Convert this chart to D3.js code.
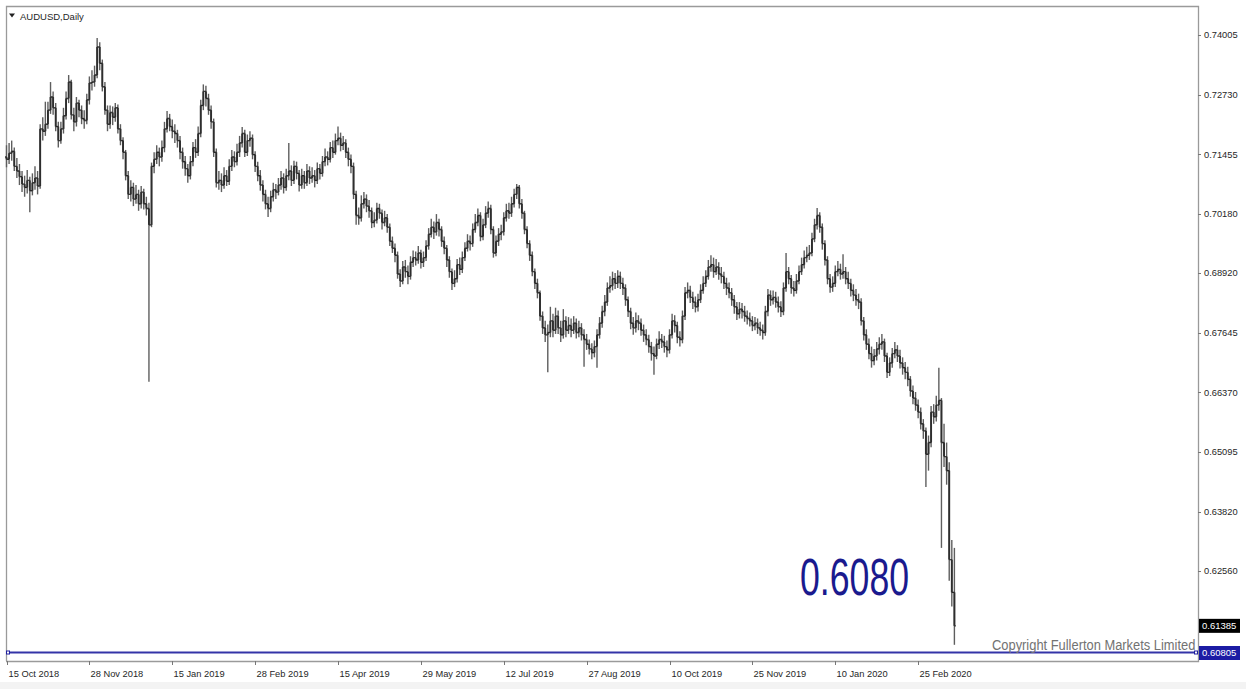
<!DOCTYPE html>
<html>
<head>
<meta charset="utf-8">
<script src="https://cdn.jsdelivr.net/npm/d3@7"></script>
<style>
  html, body { margin: 0; padding: 0; background: #fff; }
  svg { display: block; }
  text { font-family: "Liberation Sans", Arial, sans-serif; }
</style>
</head>
<body>
<svg width="1246" height="689"></svg>
<script>
// AUDUSD daily, 15 Oct 2018 .. 16 Mar 2020
const firstOpen = 0.7140;

const closes = [
  0.7135,0.7148,0.7152,0.7120,0.7110,0.7098,0.7082,0.7075,0.7090,0.7068,
  0.7085,0.7095,0.7078,0.7200,0.7195,0.7210,0.7240,0.7268,0.7245,0.7205,
  0.7175,0.7200,0.7228,0.7265,0.7300,0.7230,0.7215,0.7255,0.7240,0.7222,
  0.7218,0.7262,0.7298,0.7300,0.7315,0.7375,0.7340,0.7290,0.7240,0.7210,
  0.7235,0.7225,0.7245,0.7200,0.7175,0.7150,0.7100,0.7060,0.7075,0.7050,
  0.7060,0.7040,0.7065,0.7040,0.7030,0.6995,0.7120,0.7135,0.7150,0.7140,
  0.7160,0.7200,0.7222,0.7205,0.7195,0.7190,0.7175,0.7150,0.7130,0.7115,
  0.7100,0.7130,0.7160,0.7150,0.7190,0.7250,0.7280,0.7265,0.7240,0.7215,
  0.7150,0.7085,0.7090,0.7080,0.7100,0.7088,0.7120,0.7140,0.7130,0.7150,
  0.7170,0.7190,0.7150,0.7175,0.7180,0.7145,0.7120,0.7100,0.7080,0.7060,
  0.7040,0.7030,0.7055,0.7070,0.7065,0.7080,0.7095,0.7075,0.7100,0.7110,
  0.7090,0.7120,0.7105,0.7080,0.7100,0.7085,0.7110,0.7095,0.7100,0.7090,
  0.7115,0.7105,0.7130,0.7140,0.7135,0.7160,0.7150,0.7175,0.7180,0.7165,
  0.7170,0.7150,0.7135,0.7120,0.7060,0.7015,0.7010,0.7040,0.7050,0.7035,
  0.7025,0.7000,0.7005,0.7030,0.7020,0.7000,0.7010,0.6990,0.6960,0.6945,
  0.6930,0.6890,0.6875,0.6905,0.6895,0.6885,0.6915,0.6925,0.6920,0.6935,
  0.6915,0.6925,0.6950,0.6975,0.6990,0.6980,0.7000,0.6985,0.6960,0.6945,
  0.6920,0.6895,0.6870,0.6880,0.6910,0.6900,0.6925,0.6945,0.6960,0.6955,
  0.6985,0.7000,0.7015,0.6970,0.6995,0.7020,0.7030,0.6985,0.6935,0.6960,
  0.6975,0.6980,0.7010,0.7025,0.7020,0.7040,0.7060,0.7075,0.7040,0.7020,
  0.6985,0.6955,0.6930,0.6895,0.6870,0.6850,0.6800,0.6775,0.6760,0.6765,
  0.6790,0.6770,0.6800,0.6775,0.6760,0.6790,0.6770,0.6780,0.6770,0.6785,
  0.6765,0.6775,0.6760,0.6750,0.6740,0.6730,0.6722,0.6735,0.6760,0.6785,
  0.6810,0.6830,0.6860,0.6865,0.6880,0.6870,0.6885,0.6870,0.6860,0.6835,
  0.6810,0.6785,0.6775,0.6790,0.6785,0.6770,0.6760,0.6750,0.6735,0.6720,
  0.6715,0.6740,0.6750,0.6745,0.6735,0.6728,0.6760,0.6790,0.6780,0.6755,
  0.6750,0.6800,0.6850,0.6855,0.6840,0.6830,0.6820,0.6835,0.6855,0.6870,
  0.6885,0.6905,0.6910,0.6895,0.6905,0.6890,0.6885,0.6870,0.6860,0.6850,
  0.6835,0.6820,0.6805,0.6815,0.6810,0.6800,0.6795,0.6790,0.6780,0.6785,
  0.6775,0.6770,0.6765,0.6810,0.6845,0.6835,0.6840,0.6830,0.6820,0.6810,
  0.6860,0.6895,0.6880,0.6860,0.6855,0.6875,0.6895,0.6910,0.6925,0.6930,
  0.6935,0.6965,0.6995,0.7015,0.6990,0.6955,0.6920,0.6880,0.6862,0.6870,
  0.6895,0.6900,0.6890,0.6895,0.6880,0.6870,0.6855,0.6845,0.6835,0.6830,
  0.6790,0.6760,0.6740,0.6720,0.6705,0.6715,0.6730,0.6740,0.6745,0.6715,
  0.6680,0.6700,0.6720,0.6728,0.6715,0.6700,0.6690,0.6680,0.6665,0.6640,
  0.6625,0.6610,0.6595,0.6570,0.6555,0.6505,0.6530,0.6595,0.6585,0.6610,
  0.6620,0.6530,0.6500,0.6470,0.6280,0.6210,0.61385
];

const highs = [
  0.7165,0.7170,0.7175,0.7160,0.7138,0.7125,0.7110,0.7100,0.7112,0.7098,
  0.7105,0.7120,0.7110,0.7210,0.7225,0.7258,0.7258,0.7300,0.7280,0.7255,
  0.7215,0.7215,0.7245,0.7280,0.7315,0.7305,0.7245,0.7268,0.7262,0.7250,
  0.7240,0.7275,0.7312,0.7325,0.7335,0.7394,0.7385,0.7348,0.7300,0.7250,
  0.7250,0.7248,0.7255,0.7252,0.7210,0.7182,0.7155,0.7110,0.7090,0.7085,
  0.7080,0.7070,0.7078,0.7072,0.7055,0.7042,0.7128,0.7150,0.7165,0.7160,
  0.7175,0.7215,0.7238,0.7232,0.7220,0.7210,0.7198,0.7185,0.7160,0.7142,
  0.7125,0.7142,0.7172,0.7178,0.7205,0.7262,0.7295,0.7292,0.7275,0.7250,
  0.7222,0.7158,0.7110,0.7105,0.7118,0.7112,0.7135,0.7155,0.7152,0.7168,
  0.7185,0.7204,0.7198,0.7188,0.7195,0.7188,0.7152,0.7130,0.7112,0.7090,
  0.7070,0.7055,0.7068,0.7085,0.7082,0.7095,0.7110,0.7105,0.7115,0.7170,
  0.7122,0.7132,0.7130,0.7112,0.7115,0.7110,0.7125,0.7120,0.7118,0.7112,
  0.7128,0.7125,0.7142,0.7158,0.7152,0.7172,0.7175,0.7190,0.7205,0.7192,
  0.7185,0.7178,0.7160,0.7145,0.7128,0.7068,0.7032,0.7058,0.7065,0.7060,
  0.7048,0.7032,0.7022,0.7042,0.7040,0.7028,0.7025,0.7018,0.6998,0.6970,
  0.6955,0.6938,0.6900,0.6918,0.6920,0.6908,0.6928,0.6940,0.6938,0.6950,
  0.6942,0.6938,0.6962,0.6988,0.7008,0.7002,0.7018,0.7008,0.6992,0.6970,
  0.6952,0.6928,0.6902,0.6898,0.6922,0.6925,0.6938,0.6958,0.6975,0.6972,
  0.6998,0.7018,0.7030,0.7022,0.7008,0.7035,0.7045,0.7038,0.6992,0.6972,
  0.6988,0.6995,0.7022,0.7040,0.7042,0.7055,0.7072,0.7082,0.7080,0.7050,
  0.7025,0.6992,0.6962,0.6938,0.6902,0.6880,0.6855,0.6810,0.6790,0.6782,
  0.6820,0.6805,0.6818,0.6812,0.6790,0.6815,0.6800,0.6798,0.6795,0.6800,
  0.6795,0.6790,0.6785,0.6772,0.6762,0.6750,0.6742,0.6748,0.6772,0.6798,
  0.6822,0.6845,0.6872,0.6885,0.6895,0.6892,0.6898,0.6895,0.6882,0.6868,
  0.6842,0.6818,0.6798,0.6808,0.6802,0.6795,0.6782,0.6772,0.6760,0.6745,
  0.6735,0.6752,0.6768,0.6762,0.6758,0.6748,0.6772,0.6805,0.6802,0.6788,
  0.6768,0.6812,0.6862,0.6872,0.6865,0.6852,0.6842,0.6848,0.6868,0.6885,
  0.6898,0.6920,0.6930,0.6925,0.6922,0.6915,0.6905,0.6895,0.6882,0.6872,
  0.6860,0.6845,0.6830,0.6830,0.6828,0.6822,0.6812,0.6808,0.6800,0.6798,
  0.6795,0.6788,0.6782,0.6822,0.6858,0.6855,0.6855,0.6852,0.6842,0.6832,
  0.6872,0.6935,0.6905,0.6888,0.6875,0.6890,0.6908,0.6925,0.6940,0.6948,
  0.6952,0.6978,0.7008,0.7031,0.7022,0.6998,0.6962,0.6928,0.6890,0.6885,
  0.6908,0.6918,0.6912,0.6932,0.6905,0.6895,0.6880,0.6868,0.6858,0.6848,
  0.6838,0.6798,0.6772,0.6752,0.6735,0.6730,0.6745,0.6755,0.6762,0.6752,
  0.6722,0.6712,0.6732,0.6745,0.6738,0.6728,0.6712,0.6702,0.6692,0.6672,
  0.6652,0.6638,0.6622,0.6605,0.6580,0.6562,0.6545,0.6608,0.6612,0.6630,
  0.6690,0.6625,0.6570,0.6530,0.6488,0.6322,0.6305
];

const lows = [
  0.7118,0.7125,0.7132,0.7110,0.7095,0.7080,0.7065,0.7055,0.7062,0.7022,
  0.7058,0.7070,0.7060,0.7072,0.7175,0.7185,0.7200,0.7232,0.7230,0.7195,
  0.7160,0.7168,0.7190,0.7220,0.7255,0.7220,0.7195,0.7205,0.7225,0.7210,
  0.7200,0.7210,0.7252,0.7282,0.7290,0.7308,0.7325,0.7280,0.7230,0.7195,
  0.7200,0.7208,0.7215,0.7190,0.7165,0.7135,0.7090,0.7050,0.7045,0.7035,
  0.7040,0.7025,0.7030,0.7028,0.7015,0.6660,0.6990,0.7105,0.7125,0.7120,
  0.7130,0.7150,0.7192,0.7195,0.7180,0.7170,0.7160,0.7135,0.7115,0.7100,
  0.7085,0.7092,0.7120,0.7138,0.7142,0.7182,0.7240,0.7248,0.7230,0.7200,
  0.7140,0.7075,0.7070,0.7065,0.7072,0.7078,0.7080,0.7110,0.7118,0.7122,
  0.7140,0.7160,0.7140,0.7142,0.7162,0.7135,0.7108,0.7088,0.7068,0.7045,
  0.7028,0.7012,0.7022,0.7045,0.7050,0.7058,0.7070,0.7062,0.7068,0.7090,
  0.7078,0.7082,0.7092,0.7066,0.7072,0.7072,0.7078,0.7082,0.7085,0.7075,
  0.7082,0.7092,0.7098,0.7120,0.7122,0.7128,0.7138,0.7145,0.7165,0.7152,
  0.7155,0.7138,0.7120,0.7105,0.7050,0.6995,0.6995,0.7002,0.7030,0.7022,
  0.7010,0.6988,0.6990,0.6998,0.7008,0.6985,0.6992,0.6978,0.6950,0.6935,
  0.6915,0.6880,0.6862,0.6868,0.6882,0.6868,0.6878,0.6905,0.6908,0.6912,
  0.6902,0.6905,0.6918,0.6942,0.6968,0.6965,0.6972,0.6970,0.6948,0.6932,
  0.6905,0.6882,0.6856,0.6862,0.6872,0.6888,0.6892,0.6918,0.6938,0.6940,
  0.6948,0.6978,0.6992,0.6960,0.6962,0.6988,0.7010,0.6975,0.6925,0.6928,
  0.6950,0.6962,0.6972,0.7002,0.7008,0.7012,0.7032,0.7050,0.7030,0.7008,
  0.6975,0.6945,0.6918,0.6885,0.6858,0.6838,0.6790,0.6762,0.6745,0.6680,
  0.6755,0.6755,0.6762,0.6762,0.6745,0.6752,0.6755,0.6762,0.6755,0.6762,
  0.6752,0.6755,0.6748,0.6692,0.6728,0.6718,0.6708,0.6712,0.6690,0.6752,
  0.6775,0.6800,0.6822,0.6850,0.6855,0.6858,0.6860,0.6858,0.6845,0.6822,
  0.6798,0.6772,0.6760,0.6765,0.6770,0.6758,0.6745,0.6738,0.6722,0.6705,
  0.6675,0.6708,0.6730,0.6732,0.6722,0.6712,0.6720,0.6752,0.6765,0.6742,
  0.6735,0.6742,0.6792,0.6838,0.6828,0.6815,0.6808,0.6810,0.6828,0.6848,
  0.6862,0.6878,0.6895,0.6882,0.6888,0.6878,0.6870,0.6858,0.6845,0.6838,
  0.6822,0.6805,0.6792,0.6795,0.6795,0.6788,0.6782,0.6778,0.6768,0.6770,
  0.6762,0.6758,0.6750,0.6758,0.6800,0.6822,0.6825,0.6818,0.6808,0.6798,
  0.6802,0.6852,0.6868,0.6848,0.6842,0.6848,0.6868,0.6888,0.6902,0.6915,
  0.6920,0.6928,0.6958,0.6985,0.6978,0.6942,0.6908,0.6868,0.6850,0.6852,
  0.6862,0.6885,0.6878,0.6880,0.6868,0.6858,0.6842,0.6832,0.6822,0.6815,
  0.6780,0.6748,0.6728,0.6708,0.6690,0.6695,0.6705,0.6718,0.6728,0.6702,
  0.6668,0.6672,0.6690,0.6710,0.6702,0.6688,0.6675,0.6665,0.6650,0.6628,
  0.6612,0.6598,0.6582,0.6558,0.6538,0.6435,0.6470,0.6520,0.6570,0.6575,
  0.6598,0.6305,0.6478,0.6440,0.6235,0.6180,0.6098
];

const priceTicks = [0.74005, 0.72730, 0.71455, 0.70180, 0.68920, 0.67645, 0.66370, 0.65095, 0.63820, 0.62560];
const dateLabels = ["15 Oct 2018", "28 Nov 2018", "15 Jan 2019", "28 Feb 2019", "15 Apr 2019", "29 May 2019",
                    "12 Jul 2019", "27 Aug 2019", "10 Oct 2019", "25 Nov 2019", "10 Jan 2020", "25 Feb 2020"];
const barsPerLabel = 32;
const lastPrice = 0.61385;
const levelPrice = 0.60805;
const levelText = "0.6080";

// build OHLC rows (open = previous close)
const bars = closes.map((c, i) => ({
  i: i,
  o: i === 0 ? firstOpen : closes[i - 1],
  h: highs[i],
  l: lows[i],
  c: c
}));

const svg = d3.select("svg");
const plotLeft = 6, plotRight = 1198, plotTop = 6, plotBottom = 661;

const x = d3.scaleLinear()
  .domain([0, bars.length - 1])
  .range([6.5, 954.4]);

const y = d3.scaleLinear()
  .domain([levelPrice, 0.74005])
  .range([653, 35]);

// light strip at the very bottom
svg.append("rect")
  .attr("x", 0).attr("y", 682).attr("width", 1246).attr("height", 7)
  .attr("fill", "#f3f3f3");

// frame
svg.append("path")
  .attr("d", `M${plotLeft + 0.5},${plotBottom} V${plotTop + 0.5} H${plotRight + 0.5} V${plotBottom + 0.5} H${plotLeft}`)
  .attr("fill", "none")
  .attr("stroke", "#9a9a9a")
  .attr("stroke-width", 1.3);

const plot = svg.append("g");

// OHLC bars
const barG = plot.selectAll(".bar")
  .data(bars)
  .enter()
  .append("g")
  .attr("class", "bar");

barG.append("line")
  .attr("x1", d => x(d.i)).attr("x2", d => x(d.i))
  .attr("y1", d => y(d.h)).attr("y2", d => y(d.l))
  .attr("stroke", "#5e5e5e")
  .attr("stroke-width", 1.4);

barG.append("line")
  .attr("x1", d => x(d.i) - 1.4).attr("x2", d => x(d.i))
  .attr("y1", d => y(d.o)).attr("y2", d => y(d.o))
  .attr("stroke", "#262626")
  .attr("stroke-width", 1.4);

barG.append("line")
  .attr("x1", d => x(d.i)).attr("x2", d => x(d.i) + 1.4)
  .attr("y1", d => y(d.c)).attr("y2", d => y(d.c))
  .attr("stroke", "#262626")
  .attr("stroke-width", 1.4);

// darker stretch between open and close, as it shows in the picture
barG.append("line")
  .attr("x1", d => x(d.i)).attr("x2", d => x(d.i))
  .attr("y1", d => y(Math.max(d.o, d.c))).attr("y2", d => y(Math.min(d.o, d.c)))
  .attr("stroke", "#2e2e2e")
  .attr("stroke-width", 1.9);

// blue level line
svg.append("line")
  .attr("x1", plotLeft + 1).attr("x2", plotRight - 2)
  .attr("y1", y(levelPrice) - 0.5).attr("y2", y(levelPrice) - 0.5)
  .attr("stroke", "#3434a8")
  .attr("stroke-width", 1.8);
[plotLeft + 2, plotRight - 2].forEach(px => {
  svg.append("rect")
    .attr("x", px - 1.5).attr("y", y(levelPrice) - 2)
    .attr("width", 3).attr("height", 3)
    .attr("fill", "#fff").attr("stroke", "#2020a0").attr("stroke-width", 1);
});

// price axis
const yAxis = svg.append("g");
priceTicks.forEach(v => {
  yAxis.append("line")
    .attr("x1", plotRight).attr("x2", plotRight + 3)
    .attr("y1", Math.round(y(v)) + 0.5).attr("y2", Math.round(y(v)) + 0.5)
    .attr("stroke", "#777");
  yAxis.append("text")
    .attr("x", plotRight + 6).attr("y", y(v)).attr("dy", "0.35em")
    .attr("font-size", 9.3).attr("fill", "#262626")
    .text(v.toFixed(5));
});

function priceTag(v, fill) {
  const yy = y(v);
  svg.append("rect")
    .attr("x", plotRight + 1).attr("y", yy - 7)
    .attr("width", 41).attr("height", 14)
    .attr("fill", fill);
  svg.append("text")
    .attr("x", plotRight + 4).attr("y", yy).attr("dy", "0.35em")
    .attr("font-size", 9.5).attr("fill", "#fff")
    .text(v.toFixed(5));
}
priceTag(lastPrice, "#000");
priceTag(levelPrice, "#1c1ca4");

// time axis
const xAxis = svg.append("g");
dateLabels.forEach((lab, k) => {
  const px = Math.round(x(k * barsPerLabel)) + 0.5;
  xAxis.append("line")
    .attr("x1", px).attr("x2", px)
    .attr("y1", plotBottom).attr("y2", plotBottom + 4)
    .attr("stroke", "#777");
  xAxis.append("text")
    .attr("x", px + 1).attr("y", 677)
    .attr("font-size", 9.3).attr("fill", "#262626")
    .text(lab);
});

// title
svg.append("path")
  .attr("d", "M9,13.5 L15,13.5 L12,17.5 Z")
  .attr("fill", "#222");
svg.append("text")
  .attr("x", 20).attr("y", 20)
  .attr("font-size", 9.5).attr("fill", "#262626")
  .text("AUDUSD,Daily");

// level annotation (narrow face, squeezed horizontally)
svg.append("text")
  .attr("transform", "translate(800,595) scale(0.7,1)")
  .attr("font-size", 51)
  .attr("fill", "#1a1a8e")
  .text(levelText);

// copyright
svg.append("text")
  .attr("transform", "translate(992,650) scale(0.86,1)")
  .attr("font-size", 15)
  .attr("fill", "#727272")
  .text("Copyright Fullerton Markets Limited");
</script>
</body>
</html>
